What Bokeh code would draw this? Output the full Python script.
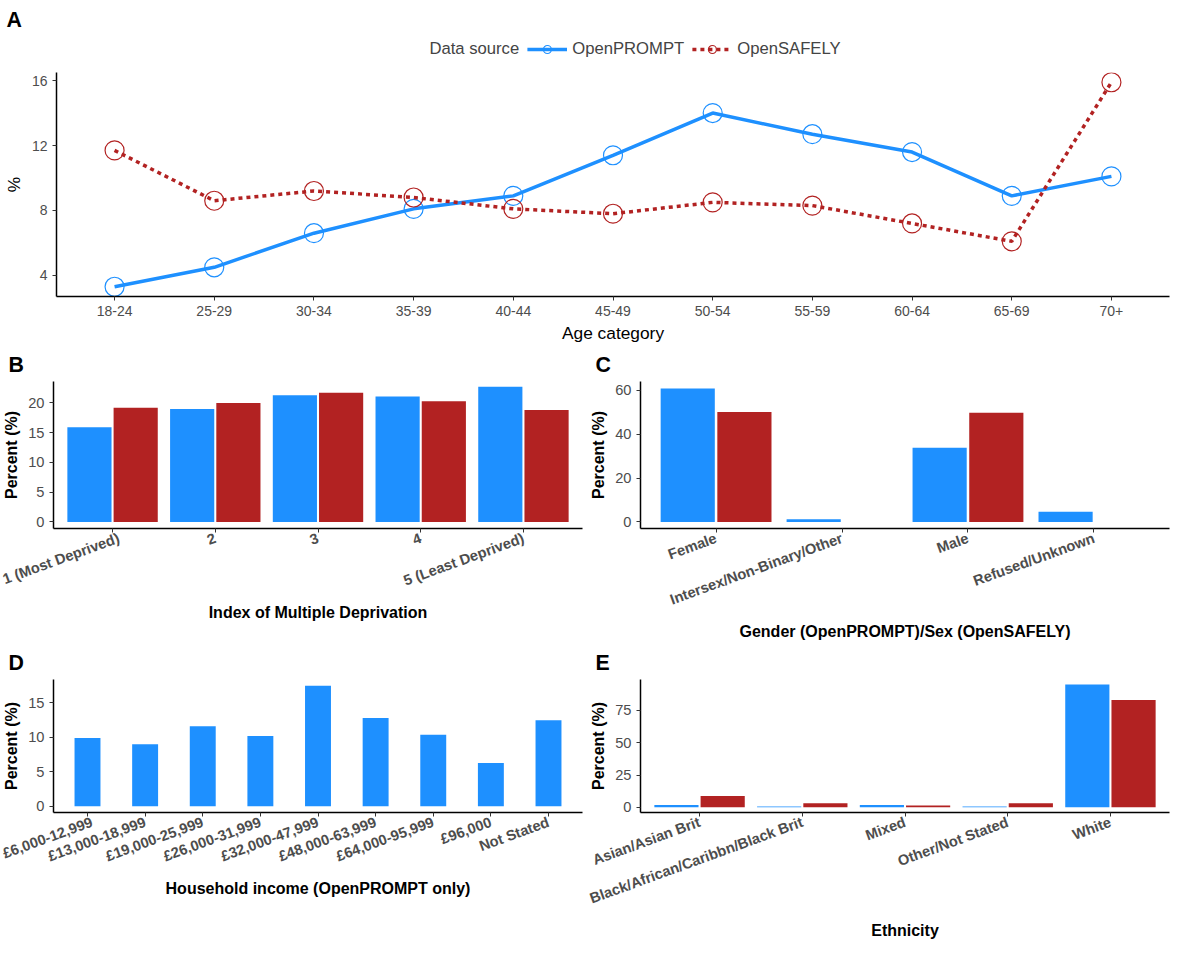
from bokeh.plotting import figure
from bokeh.models import FactorRange, Range1d, Legend, LegendItem
from bokeh.transform import dodge
from bokeh.layouts import column, row
from bokeh.embed import file_html
from bokeh.resources import INLINE

age = ["18-24","25-29","30-34","35-39","40-44","45-49","50-54","55-59","60-64","65-69","70+"]
age_prompt = [3.3, 4.5, 6.6, 8.1, 8.9, 11.4, 14.0, 12.7, 11.6, 8.9, 10.1]
age_safely = [11.7, 8.6, 9.2, 8.8, 8.1, 7.8, 8.5, 8.3, 7.2, 6.1, 15.9]

imd = ["1 (Most Deprived)", "2", "3", "4", "5 (Least Deprived)"]
imd_prompt = [15.9, 19.0, 21.3, 21.1, 22.7]
imd_safely = [19.2, 20.0, 21.7, 20.3, 18.8]

gender = ["Female", "Intersex/Non-Binary/Other", "Male", "Refused/Unknown"]
gender_prompt = [60.8, 1.2, 33.8, 4.6]
gender_safely = [50.1, 0.0, 49.8, 0.0]

income = ["£6,000-12,999", "£13,000-18,999", "£19,000-25,999", "£26,000-31,999",
          "£32,000-47,999", "£48,000-63,999", "£64,000-95,999", "£96,000", "Not Stated"]
income_prompt = [9.9, 9.0, 11.6, 10.2, 17.5, 12.8, 10.4, 6.3, 12.5]

eth = ["Asian/Asian Brit", "Black/African/Caribbn/Black Brit", "Mixed", "Other/Not Stated", "White"]
eth_prompt = [1.8, 0.6, 1.8, 0.6, 95.2]
eth_safely = [8.8, 3.2, 1.5, 3.2, 83.2]

BLUE = "#1E90FF"
RED = "#B22222"
FONT = "Liberation Sans"

def style(p, bold_x=True):
    p.xgrid.visible = False
    p.ygrid.visible = False
    p.outline_line_color = None
    p.title.text_font = FONT
    p.title.text_font_size = "16pt"
    p.title.text_font_style = "bold"
    p.title.text_color = "black"
    p.title.offset = -45
    for ax in (p.xaxis, p.yaxis):
        ax.axis_line_color = "black"
        ax.axis_line_width = 1.5
        ax.major_tick_line_color = "#333333"
        ax.minor_tick_line_color = None
        ax.major_label_text_font = FONT
        ax.major_label_text_font_size = "11pt"
        ax.major_label_text_color = "#4d4d4d"
        ax.axis_label_text_font = FONT
        ax.axis_label_text_font_size = "12pt"
        ax.axis_label_text_font_style = "bold"
        ax.axis_label_text_color = "black"
        ax.major_tick_out = 4
        ax.major_tick_in = 0
    if bold_x:
        p.xaxis.major_label_text_font_style = "bold"

def add_lines(p):
    l1 = p.line(age, age_prompt, line_color=BLUE, line_width=3.5)
    c1 = p.scatter(age, age_prompt, size=19, fill_color=None, line_color=BLUE, line_width=1.2)
    l2 = p.line(age, age_safely, line_color=RED, line_width=3.5, line_dash="4 4")
    c2 = p.scatter(age, age_safely, size=19, fill_color=None, line_color=RED, line_width=1.2)
    return l1, c1, l2, c2

# Legend strip with title A
pl = figure(x_range=FactorRange(*age), y_range=Range1d(100, 101), width=1174, height=62,
            output_backend="svg", toolbar_location=None, title="A", min_border=0)
style(pl)
pl.title.offset = -50
pl.axis.visible = False
dummy = pl.scatter([age[0]], [age_prompt[0]], alpha=0, size=0)
l1, c1, l2, c2 = add_lines(pl)
leg = Legend(items=[LegendItem(label="Data source", renderers=[dummy]),
                    LegendItem(label="OpenPROMPT", renderers=[l1, c1]),
                    LegendItem(label="OpenSAFELY", renderers=[l2, c2])],
             orientation="horizontal", location="center")
leg.label_text_font = FONT
leg.label_text_font_size = "12.5pt"
leg.border_line_color = None
leg.background_fill_alpha = 0
leg.glyph_width = 40
leg.spacing = 8
leg.margin = 0
pl.add_layout(leg, "center")

# Panel A
pa = figure(x_range=FactorRange(*age, range_padding=0.015), y_range=Range1d(2.7, 16.5),
            width=1174, height=283, output_backend="svg", toolbar_location=None, min_border_top=10)
style(pa, bold_x=False)
add_lines(pa)
pa.yaxis.ticker = [4, 8, 12, 16]
pa.xaxis.axis_label = "Age category"
pa.yaxis.axis_label = "%"
for ax in (pa.xaxis, pa.yaxis):
    ax.axis_label_text_font_style = "normal"
    ax.axis_label_text_font_size = "13pt"
    ax.major_label_text_font_size = "10.5pt"
pa.xaxis.axis_label_standoff = 4

def bars2(title, cats, v1, v2, ylab, xlab, yr, ticks, overrides=None, angle=0.35, pad=0.03):
    p = figure(x_range=FactorRange(*cats, range_padding=pad), y_range=Range1d(*yr),
               width=587, height=298, output_backend="svg", toolbar_location=None, title=title)
    style(p)
    data = dict(x=cats, a=v1, b=v2)
    p.vbar(x=dodge("x", -0.225, range=p.x_range), top="a", width=0.43, source=data,
           fill_color=BLUE, line_color=None)
    p.vbar(x=dodge("x", 0.225, range=p.x_range), top="b", width=0.43, source=data,
           fill_color=RED, line_color=None)
    p.yaxis.ticker = ticks
    p.xaxis.axis_label = xlab
    p.yaxis.axis_label = ylab
    p.xaxis.major_label_orientation = angle
    if overrides:
        p.xaxis.major_label_overrides = overrides
    return p

pb = bars2("B", imd, imd_prompt, imd_safely, "Percent (%)", "Index of Multiple Deprivation",
           (-1.1, 23.6), [0, 5, 10, 15, 20],
           overrides={"1 (Most Deprived)": "\n1 (Most Deprived)", "5 (Least Deprived)": "\n5 (Least Deprived)"})
pc = bars2("C", gender, gender_prompt, gender_safely, "Percent (%)", "Gender (OpenPROMPT)/Sex (OpenSAFELY)",
           (-3, 64), [0, 20, 40, 60], pad=0.05,
           overrides={"Intersex/Non-Binary/Other": "\n\nIntersex/Non-Binary/Other", "Refused/Unknown": "\n\nRefused/Unknown"})
data_d = dict(x=income, a=income_prompt)
pd_ = figure(x_range=FactorRange(*income, range_padding=0.02), y_range=Range1d(-0.9, 18.4),
             width=587, height=298, output_backend="svg", toolbar_location=None, title="D")
style(pd_)
pd_.vbar(x="x", top="a", width=0.45, source=data_d, fill_color=BLUE, line_color=None)
pd_.yaxis.ticker = [0, 5, 10, 15]
pd_.xaxis.axis_label = "Household income (OpenPROMPT only)"
pd_.yaxis.axis_label = "Percent (%)"
pd_.xaxis.major_label_orientation = 0.35
pe = bars2("E", eth, eth_prompt, eth_safely, "Percent (%)", "Ethnicity",
           (-4, 99), [0, 25, 50, 75],
           overrides={"Black/African/Caribbn/Black Brit": "\n\nBlack/African/Caribbn/Black Brit",
                      "Other/Not Stated": "\n\nOther/Not Stated"})

layout = column(pl, pa, row(pb, pc), row(pd_, pe))
open("out.html", "w").write(file_html(layout, INLINE))
